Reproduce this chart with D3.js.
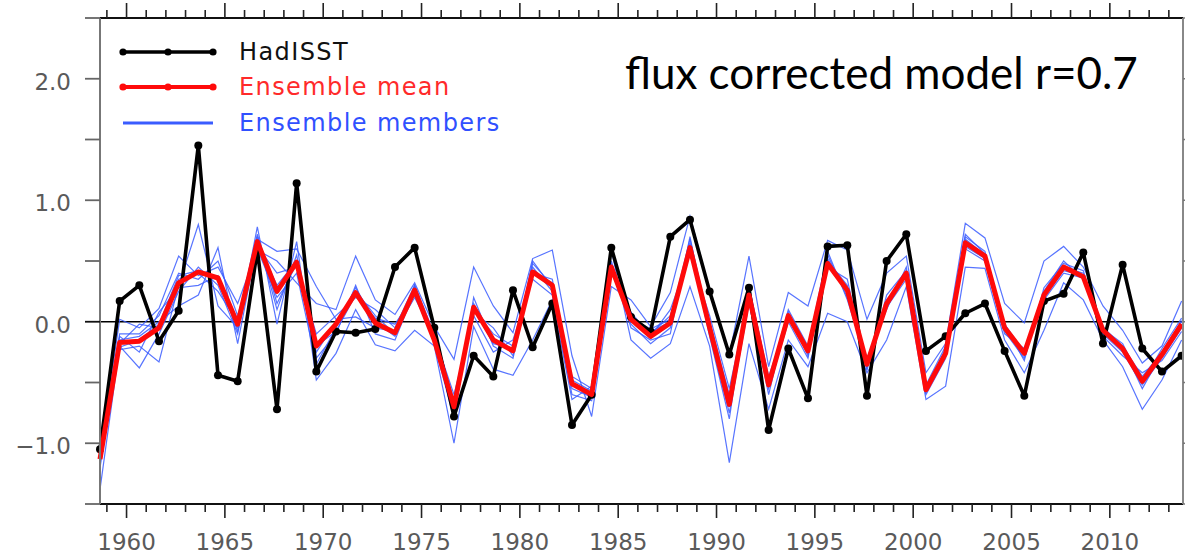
<!DOCTYPE html>
<html>
<head>
<meta charset="utf-8">
<script src="https://cdn.jsdelivr.net/npm/d3@7"></script>
<style>
  html, body { margin: 0; padding: 0; background: #fff; }
  svg { display: block; }
</style>
</head>
<body>
<svg id="chart" width="1185" height="555"></svg>
<script>
// Annual records 1958-2013
const years = d3.range(1958, 2014);

const hadisst = [
  -1.05, 0.17, 0.30, -0.16, 0.09, 1.45, -0.44, -0.49, 0.59, -0.72, 1.14, -0.41,
  -0.08, -0.09, -0.06, 0.45, 0.61, -0.05, -0.78, -0.28, -0.45, 0.26, -0.21,
  0.15, -0.85, -0.60, 0.61, 0.04, -0.08, 0.70, 0.84, 0.25, -0.27,
  0.28, -0.89, -0.22, -0.63, 0.62, 0.63, -0.61, 0.50, 0.72, -0.24, -0.12,
  0.07, 0.15, -0.24, -0.61, 0.17, 0.23, 0.57, -0.18, 0.47, -0.22, -0.41, -0.28
];

const ensembleMean = [
  -1.13, -0.17, -0.16, -0.05, 0.32, 0.41, 0.36, -0.02, 0.66, 0.25, 0.49, -0.20,
  -0.02, 0.24, -0.01, -0.09, 0.26, -0.15, -0.70, 0.12, -0.15, -0.24, 0.41,
  0.30, -0.51, -0.60, 0.45, 0.02, -0.12, -0.01, 0.61, -0.05, -0.68,
  0.22, -0.52, 0.05, -0.24, 0.48, 0.26, -0.35, 0.15, 0.40, -0.56, -0.26,
  0.65, 0.54, -0.05, -0.26, 0.22, 0.45, 0.37, -0.07, -0.22, -0.49, -0.27, -0.02
];

// One row per year, one column per ensemble member (8 members)
const memberRows = [
  [-1.05, -1.38, -1.10, -1.15, -1.08, -1.20, -1.12, -1.00],
  [-0.10, -0.20, 0.02, -0.23, -0.15, -0.18, -0.12, -0.21],
  [-0.10, -0.38, -0.05, -0.20, -0.12, -0.02, -0.25, -0.15],
  [0.05, -0.10, 0.11, -0.33, 0.00, -0.05, 0.08, -0.02],
  [0.40, 0.25, 0.54, 0.30, 0.13, 0.35, 0.28, 0.38],
  [0.35, 0.45, 0.38, 0.80, 0.22, 0.40, 0.30, 0.42],
  [0.50, 0.30, 0.45, 0.13, 0.61, 0.25, 0.38, 0.35],
  [0.05, -0.10, 0.15, -0.05, -0.18, 0.00, -0.08, 0.02],
  [0.62, 0.70, 0.59, 0.78, 0.65, 0.68, 0.60, 0.72],
  [0.40, 0.10, 0.50, -0.02, 0.30, 0.58, 0.20, 0.15],
  [0.45, 0.55, 0.32, 0.66, 0.50, 0.60, 0.40, 0.48],
  [-0.10, -0.30, 0.15, -0.48, -0.25, 0.29, -0.35, -0.20],
  [0.05, -0.10, 0.10, -0.26, 0.00, 0.02, -0.05, -0.08],
  [0.20, 0.30, 0.54, 0.10, 0.25, 0.04, 0.28, 0.22],
  [0.10, -0.10, 0.18, -0.19, 0.05, -0.05, 0.00, 0.03],
  [-0.05, -0.15, 0.06, -0.24, -0.10, -0.08, -0.12, -0.02],
  [0.30, 0.25, 0.32, -0.07, 0.28, 0.20, 0.30, 0.22],
  [-0.10, -0.18, -0.04, -0.20, -0.15, -0.12, -0.17, -0.14],
  [-0.65, -0.80, -0.31, -1.00, -0.70, -0.60, -0.75, -0.72],
  [0.10, 0.20, 0.45, -0.04, 0.15, 0.05, 0.08, 0.12],
  [-0.10, -0.20, 0.13, -0.39, -0.15, -0.25, -0.05, -0.18],
  [-0.20, -0.30, -0.09, -0.44, -0.25, -0.15, -0.28, -0.22],
  [0.45, 0.40, 0.52, -0.15, 0.48, 0.35, 0.50, 0.42],
  [0.25, 0.35, 0.59, 0.18, 0.30, 0.22, 0.28, 0.32],
  [-0.45, -0.55, -0.28, -0.64, -0.50, -0.60, -0.48, -0.52],
  [-0.55, -0.62, -0.78, -0.53, -0.58, -0.65, -0.57, -0.60],
  [0.42, 0.50, 0.29, 0.59, 0.45, 0.40, 0.48, 0.44],
  [0.05, -0.05, 0.18, -0.15, 0.02, 0.08, -0.02, 0.03],
  [-0.10, -0.15, -0.04, -0.30, -0.08, -0.12, -0.18, -0.06],
  [0.05, -0.10, 0.24, -0.18, 0.00, 0.10, -0.05, 0.02],
  [0.60, 0.70, 0.87, 0.29, 0.65, 0.55, 0.62, 0.68],
  [0.00, -0.10, 0.26, -0.20, -0.05, 0.05, -0.12, -0.02],
  [-0.60, -0.75, -0.28, -1.16, -0.70, -0.55, -0.80, -0.65],
  [0.25, 0.15, 0.54, -0.18, 0.30, 0.20, 0.28, 0.22],
  [-0.50, -0.55, -0.37, -0.72, -0.48, -0.60, -0.45, -0.52],
  [0.10, 0.00, 0.24, -0.15, 0.05, 0.08, 0.02, 0.06],
  [-0.20, -0.30, 0.13, -0.37, -0.25, -0.28, -0.22, -0.26],
  [0.50, 0.55, 0.67, 0.07, 0.52, 0.45, 0.58, 0.48],
  [0.30, 0.20, 0.59, 0.00, 0.25, 0.35, 0.18, 0.28],
  [-0.38, -0.30, 0.02, -0.42, -0.35, -0.40, -0.33, -0.36],
  [0.18, 0.10, 0.40, -0.15, 0.15, 0.22, 0.12, 0.16],
  [0.38, 0.45, 0.54, 0.29, 0.40, 0.42, 0.35, 0.40],
  [-0.55, -0.60, -0.42, -0.64, -0.56, -0.58, -0.52, -0.57],
  [-0.25, -0.30, -0.18, -0.53, -0.22, -0.28, -0.20, -0.24],
  [0.62, 0.70, 0.81, 0.45, 0.68, 0.60, 0.72, 0.64],
  [0.52, 0.58, 0.69, 0.44, 0.55, 0.50, 0.56, 0.53],
  [-0.02, -0.08, 0.15, -0.15, -0.05, -0.10, -0.03, -0.06],
  [-0.25, -0.30, -0.01, -0.42, -0.28, -0.22, -0.32, -0.27],
  [0.20, 0.25, 0.50, -0.07, 0.22, 0.18, 0.28, 0.21],
  [0.42, 0.50, 0.62, 0.32, 0.45, 0.40, 0.48, 0.44],
  [0.38, 0.35, 0.45, 0.18, 0.40, 0.36, 0.42, 0.37],
  [-0.05, -0.10, 0.13, -0.15, -0.08, -0.06, -0.12, -0.04],
  [-0.20, -0.25, -0.07, -0.37, -0.22, -0.18, -0.28, -0.21],
  [-0.45, -0.52, -0.34, -0.72, -0.48, -0.50, -0.42, -0.55],
  [-0.25, -0.30, -0.20, -0.48, -0.27, -0.22, -0.32, -0.26],
  [0.00, -0.05, 0.17, -0.15, -0.02, 0.03, -0.08, 0.01]
];
const members = d3.transpose(memberRows);

const xTickLabels = ["1960", "1965", "1970", "1975", "1980", "1985", "1990", "1995", "2000", "2005", "2010"];
const yTickLabels = ["\u22121.0", "0.0", "1.0", "2.0"];
const legendLabels = ["HadISST", "Ensemble mean", "Ensemble members"];
const annotation = "flux corrected model r=0.7";

// ---- layout ----
const svg = d3.select("#chart");
const plot = { left: 100, right: 1183, top: 18, bottom: 504 };
const recordOffset = 0.65; // each annual value is stamped late in its year

const x = d3.scaleLinear().domain([1958.65, 2013.72]).range([plot.left, plot.right]);
const y = d3.scaleLinear().domain([-1.5, 2.5]).range([plot.bottom, plot.top]);

const px = i => x(years[i] + recordOffset);
const line = d3.line().x((d, i) => px(i)).y(d => y(d));

const memberColor = "#3a5cff";
const meanColor = "#ff0a0a";

// ---- zero line ----
svg.append("line")
  .attr("x1", plot.left).attr("x2", plot.right)
  .attr("y1", y(0)).attr("y2", y(0))
  .attr("stroke", "#000").attr("stroke-width", 1.5);

// ---- series ----
svg.append("clipPath").attr("id", "plotclip")
  .append("rect").attr("x", plot.left - 6).attr("y", plot.top)
  .attr("width", plot.right - plot.left + 6).attr("height", plot.bottom - plot.top);

const series = svg.append("g").attr("clip-path", "url(#plotclip)");

series.selectAll("path.member").data(members).join("path")
  .attr("class", "member")
  .attr("d", line)
  .attr("fill", "none")
  .attr("stroke", memberColor)
  .attr("stroke-opacity", 0.85)
  .attr("stroke-width", 1.2);

series.append("path").datum(hadisst)
  .attr("d", line)
  .attr("fill", "none").attr("stroke", "#000")
  .attr("stroke-width", 3.6).attr("stroke-linejoin", "round");

series.selectAll("circle.obs").data(hadisst).join("circle")
  .attr("class", "obs")
  .attr("cx", (d, i) => px(i)).attr("cy", d => y(d))
  .attr("r", 4).attr("fill", "#000");

series.append("path").datum(ensembleMean)
  .attr("d", line)
  .attr("fill", "none").attr("stroke", meanColor)
  .attr("stroke-width", 5).attr("stroke-linejoin", "round");

// ---- frame ----
const frame = svg.append("g");
frame.append("line").attr("x1", plot.left).attr("x2", plot.right).attr("y1", plot.top).attr("y2", plot.top)
  .attr("stroke", "#111").attr("stroke-width", 2);
frame.append("line").attr("x1", plot.left).attr("x2", plot.right).attr("y1", plot.bottom).attr("y2", plot.bottom)
  .attr("stroke", "#111").attr("stroke-width", 2);
frame.append("line").attr("x1", plot.left).attr("x2", plot.left).attr("y1", plot.top).attr("y2", plot.bottom)
  .attr("stroke", "#777").attr("stroke-width", 2);
frame.append("line").attr("x1", plot.right).attr("x2", plot.right).attr("y1", plot.top).attr("y2", plot.bottom)
  .attr("stroke", "#888").attr("stroke-width", 2);

// x ticks: every year, longer every five years, mirrored on top
const yearTicks = d3.range(1959, 2014);
const isMajor = yr => yr % 5 === 0;

frame.selectAll("line.xb").data(yearTicks).join("line")
  .attr("class", "xb")
  .attr("x1", d => x(d)).attr("x2", d => x(d))
  .attr("y1", plot.bottom).attr("y2", d => plot.bottom + (isMajor(d) ? 14 : 8))
  .attr("stroke", "#222").attr("stroke-width", 1.6);

frame.selectAll("line.xt").data(yearTicks).join("line")
  .attr("class", "xt")
  .attr("x1", d => x(d)).attr("x2", d => x(d))
  .attr("y1", plot.top).attr("y2", d => plot.top - (isMajor(d) ? 15 : 8))
  .attr("stroke", "#222").attr("stroke-width", 1.6);

frame.selectAll("text.xl").data(xTickLabels).join("text")
  .attr("class", "xl")
  .attr("x", d => x(+d)).attr("y", 550)
  .attr("text-anchor", "middle")
  .attr("font-family", "DejaVu Sans")
  .attr("font-size", 23)
  .attr("fill", "#5a5a5a")
  .text(d => d);

// y ticks every 0.5, labels on whole numbers
const yTicks = d3.range(-1.5, 2.51, 0.5);
frame.selectAll("line.yl").data(yTicks).join("line")
  .attr("class", "yl")
  .attr("x1", plot.left - 15).attr("x2", plot.left)
  .attr("y1", d => y(d)).attr("y2", d => y(d))
  .attr("stroke", d => d === 0 ? "#111" : "#666").attr("stroke-width", 1.8);

frame.selectAll("line.yr").data(yTicks).join("line")
  .attr("class", "yr")
  .attr("x1", plot.right).attr("x2", plot.right + 8)
  .attr("y1", d => y(d)).attr("y2", d => y(d))
  .attr("stroke", "#777").attr("stroke-width", 1.6);

const yLabelValues = [-1, 0, 1, 2];
frame.selectAll("text.ylab").data(yLabelValues).join("text")
  .attr("class", "ylab")
  .attr("x", 71).attr("y", d => y(d) + 11)
  .attr("text-anchor", "end")
  .attr("font-family", "DejaVu Sans")
  .attr("font-size", 23)
  .attr("fill", "#5a5a5a")
  .text((d, i) => yTickLabels[i]);

// ---- legend ----
const legend = svg.append("g");
const legendItems = [
  { label: legendLabels[0], color: "#000", text: "#111", width: 3.6, dots: true, y: 52 },
  { label: legendLabels[1], color: meanColor, text: "#ff2a2a", width: 4, dots: true, y: 87 },
  { label: legendLabels[2], color: memberColor, text: "#3050ff", width: 3, dots: false, y: 123 }
];
legendItems.forEach(item => {
  legend.append("line")
    .attr("x1", 123).attr("x2", 213).attr("y1", item.y).attr("y2", item.y)
    .attr("stroke", item.color).attr("stroke-width", item.width);
  if (item.dots) {
    [123, 168, 213].forEach(cx => legend.append("circle")
      .attr("cx", cx).attr("cy", item.y).attr("r", 3.6).attr("fill", item.color));
  }
  legend.append("text")
    .attr("x", 239).attr("y", item.y + 8)
    .attr("font-family", "DejaVu Sans")
    .attr("font-size", 24)
    .attr("letter-spacing", 1.4)
    .attr("fill", item.text)
    .text(item.label);
});

// ---- annotation ----
const note = svg.append("text")
  .attr("x", 625).attr("y", 89)
  .attr("font-family", "Lato")
  .attr("font-size", 40)
  .attr("fill", "#000")
  .text(annotation);
const w = note.node().getComputedTextLength();
note.attr("font-size", 40 * 513 / w);
</script>
</body>
</html>
